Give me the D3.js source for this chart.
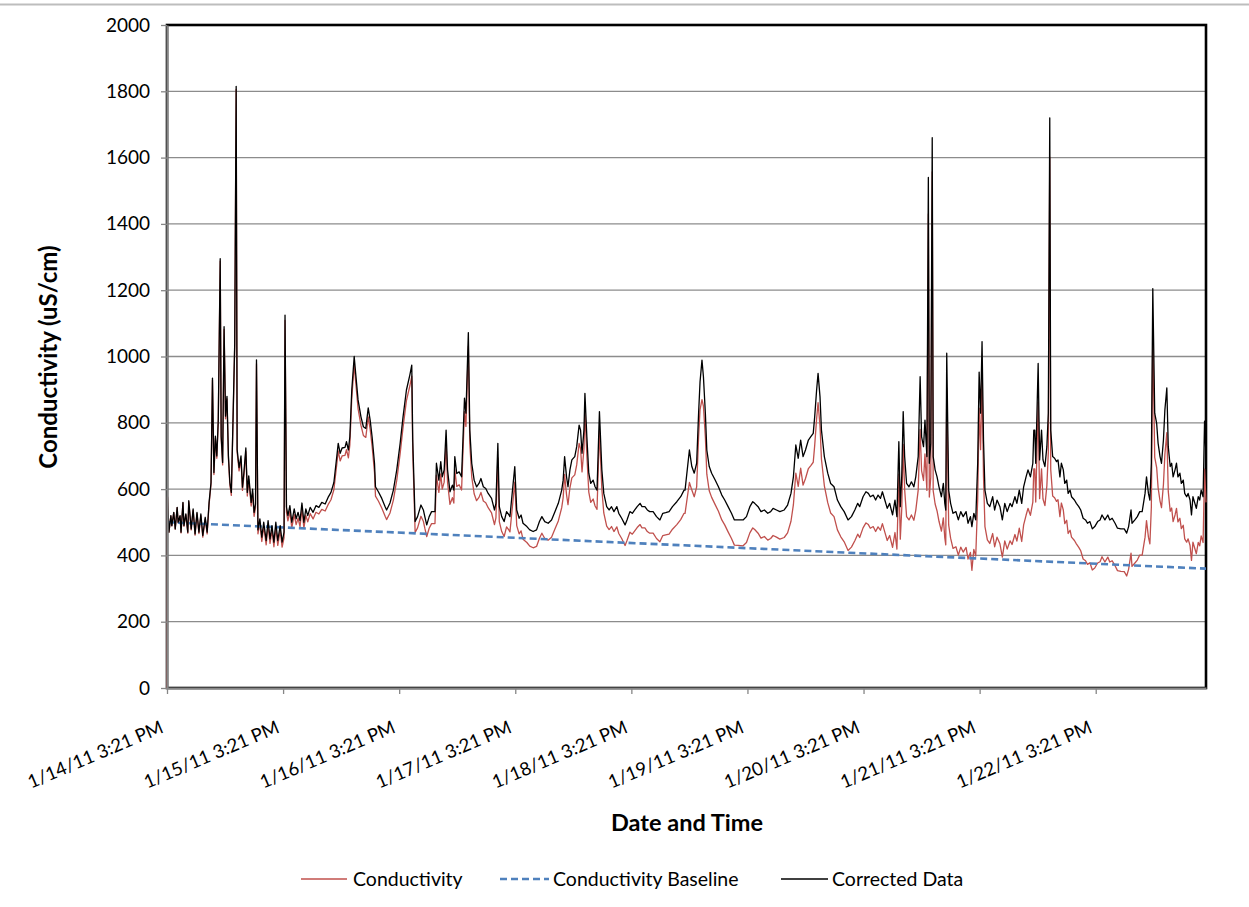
<!DOCTYPE html>
<html><head><meta charset="utf-8">
<script src="https://cdn.jsdelivr.net/npm/d3@7"></script>
<style>
body{margin:0;background:#fff}
text{font-family:Lato,"Liberation Sans",sans-serif;fill:#000}
</style>
</head><body>
<svg id="chart" width="1249" height="907"></svg>
<script>
// ---------------- DATA ----------------
const startTime = new Date(2011, 0, 14, 15, 21);
const tickLabels = ["1/14/11 3:21 PM","1/15/11 3:21 PM","1/16/11 3:21 PM","1/17/11 3:21 PM","1/18/11 3:21 PM","1/19/11 3:21 PM","1/20/11 3:21 PM","1/21/11 3:21 PM","1/22/11 3:21 PM"];
const tickHours = [0, 24, 48, 72, 96, 120, 144, 168, 192];
const yTicks = [0,200,400,600,800,1000,1200,1400,1600,1800,2000];
const endHours = 214.8;
const seriesNames = ["Conductivity","Conductivity Baseline","Corrected Data"];

// hours since 1/14/11 3:21 PM
const hours = [
0,0.1,0.4,0.8,1.0,1.4,1.7,2.1,2.3,2.7,2.9,3.3,3.5,3.9,4.3,4.5,5.0,5.4,5.8,6.2,6.6,7.0,7.4,7.9,8.3,8.7,9.1,9.4,9.7,10.0,10.3,10.6,11.0,11.2,11.5,11.8,12.1,12.4,12.7,13.0,13.3,13.6,14.0,14.3,14.5,14.9,15.3,15.6,15.9,16.3,16.6,16.9,17.4,17.7,18.0,18.3,18.5,18.8,19.2,19.6,20.0,20.5,20.9,21.3,21.7,22.1,22.5,22.9,23.4,23.8,24.2,24.4,24.7,25.0,25.4,25.8,26.3,26.7,27.1,27.5,27.9,28.3,28.7,29.1,29.6,30.2,30.8,31.4,32.0,32.7,33.3,33.9,34.5,
35.1,35.4,35.8,36.2,36.8,37.1,37.5,37.8,38.2,38.7,39.0,39.5,40.1,40.6,41.1,41.6,42.0,42.4,42.9,43.1,43.7,44.4,45.1,45.4,46.1,46.8,47.5,48.2,48.8,49.5,50.2,50.6,50.8,51.3,51.8,52.5,53.0,53.3,53.7,54.2,54.7,55.4,55.7,56.2,56.6,56.9,57.3,57.7,58.0,58.5,59.0,59.3,59.5,59.9,60.4,60.9,61.5,61.8,62.3,62.6,63.0,63.5,64.0,64.5,64.9,65.4,65.9,66.4,67.1,67.7,68.0,68.4,68.7,69.2,69.7,70.2,70.7,
70.9,71.9,72.3,72.8,73.2,73.6,74.4,75.0,75.7,76.4,77.0,77.5,78.1,78.8,79.5,80.2,80.9,81.6,81.9,82.2,82.6,82.9,83.3,83.7,84.3,84.7,85.2,85.5,85.8,86.2,86.4,86.8,87.2,87.6,88.1,88.5,88.9,89.4,89.9,90.3,90.9,91.4,91.9,92.4,93.0,93.4,94.0,94.7,95.1,95.7,96.2,96.7,97.2,97.8,98.2,98.8,99.3,99.8,100.5,101.2,101.9,102.5,103.1,103.8,104.5,105.4,106.2,106.9,
107.1,108.0,108.5,109.0,109.5,109.9,110.2,110.6,110.9,111.3,111.6,112.1,112.6,113.3,114.0,114.7,115.3,116.0,116.7,117.3,118.1,119.1,119.8,120.5,121.1,121.5,122.2,122.8,123.5,124.2,124.8,125.3,126.0,126.7,127.6,128.3,129.0,129.5,130.0,130.5,131.0,131.5,132.0,132.6,133.1,133.6,133.9,134.3,134.6,135.0,135.3,135.9,136.6,137.2,137.9,138.6,139.3,140.0,140.8,141.5,142.2,142.8,143.2,
143.9,144.5,145.0,145.4,146.0,146.5,147.0,147.5,147.9,148.4,148.9,149.4,150.0,150.5,150.9,151.3,151.6,151.9,152.2,152.5,152.9,153.4,153.9,154.4,154.8,155.3,155.7,156.0,156.4,156.7,157.1,157.4,157.6,157.9,158.2,158.4,158.8,159.2,159.6,160.1,160.5,160.8,161.0,161.2,161.6,162.0,162.5,163.1,163.6,164.1,164.6,165.2,165.6,166.1,166.4,166.8,167.2,167.6,167.9,168.2,168.5,168.8,169.1,169.6,170.1,170.7,171.1,171.6,172.2,172.7,173.2,173.7,174.3,174.7,175.3,175.7,176.2,176.7,177.1,177.6,178.0,178.5,179.0,179.2,
179.4,179.6,180.1,180.4,180.8,181.1,181.5,181.9,182.2,182.5,182.7,183.1,183.5,183.9,184.2,184.6,184.9,185.3,185.6,186.0,186.3,186.7,187.0,187.6,188.0,188.5,188.9,189.4,189.9,190.3,190.8,191.3,191.8,192.4,192.9,193.3,193.9,194.5,194.9,195.4,196.0,196.5,197.2,197.9,198.4,198.8,199.3,199.5,200.1,200.6,201.1,201.6,202.2,202.5,202.9,203.2,203.5,203.8,204.2,204.6,204.9,205.3,205.6,206.0,206.3,206.7,207.0,207.4,207.7,208.0,208.4,208.7,209.0,209.4,209.7,210.1,210.4,210.8,211.1,211.5,211.8,212.1,212.5,212.8,213.2,213.5,213.8,214.2,214.5,214.8
];

const corrected = [
null,577,470,520,490,530,480,545,500,520,470,560,490,525,470,565,480,540,465,530,470,525,460,515,470,560,620,935,650,760,700,810,1295,760,680,1090,820,880,700,620,590,780,1040,1815,720,665,700,606,650,724,590,640,560,600,530,555,990,477,510,455,500,445,505,450,490,440,500,445,490,440,470,1125,546,520,550,500,540,510,530,505,558,500,540,520,545,530,550,545,560,555,575,590,620,
698,738,708,724,726,743,718,758,899,1000,950,869,818,788,783,845,808,758,678,607,592,572,547,537,558,597,658,738,818,899,944,974,750,502,517,552,537,517,492,517,532,532,678,627,683,637,658,778,658,592,612,597,698,647,652,637,874,829,1072,778,678,627,607,617,632,607,602,587,572,537,557,738,547,517,502,532,522,
517,668,537,512,522,497,487,477,472,477,502,517,502,497,507,532,557,597,627,698,637,607,658,688,698,728,793,778,708,778,889,758,648,617,627,607,597,834,658,587,547,537,547,532,547,527,512,492,507,532,527,537,547,557,547,547,537,532,532,517,507,527,529,532,547,562,577,597,
597,718,668,648,678,829,924,989,939,829,718,668,648,628,607,582,567,547,527,507,507,507,517,547,562,557,547,532,537,527,532,542,537,532,537,552,587,637,733,693,748,698,718,748,758,768,818,899,949,879,778,698,648,617,607,567,547,532,507,517,537,557,547,
577,592,587,577,582,567,582,572,592,567,542,557,522,567,517,743,547,640,834,698,617,607,622,607,637,698,939,758,728,808,698,1540,678,738,1660,698,658,637,607,577,617,557,537,1010,597,557,527,532,507,532,517,532,497,517,487,527,507,678,953,829,1045,748,597,557,547,577,537,567,547,507,557,532,557,547,577,557,597,557,607,637,658,637,678,778,
778,678,979,688,778,688,668,728,829,1720,778,698,693,683,688,637,678,658,617,627,587,597,577,567,557,547,537,512,507,497,502,480,487,502,507,522,507,522,507,512,497,482,480,480,467,487,537,497,507,517,532,532,587,637,587,567,678,1205,829,798,738,698,678,748,839,905,728,668,678,637,658,678,637,648,617,627,587,577,587,567,522,577,557,542,577,567,597,577,805,700
];

const conductivity = [
0,577,470,519,489,529,479,544,498,518,468,558,488,522,467,562,477,536,461,526,466,520,455,510,465,554,614,929,644,753,693,803,1288,753,673,1082,812,872,692,612,581,771,1031,1806,711,655,690,596,640,713,579,629,549,588,518,543,978,465,497,442,487,432,491,436,476,426,485,430,475,425,454,1109,530,504,533,483,523,493,512,487,540,482,521,501,526,510,530,525,539,534,553,568,598,
675,715,685,700,702,719,694,733,874,975,925,843,792,762,756,818,781,730,650,579,564,543,518,508,528,567,627,707,786,867,911,941,717,469,483,518,503,482,457,482,496,496,642,590,646,600,621,740,620,554,574,558,659,608,613,597,834,789,1031,737,637,586,565,575,590,564,559,544,528,493,513,694,502,472,457,486,476,
471,621,490,465,474,449,439,428,423,427,452,467,451,446,455,480,504,544,574,644,583,553,604,634,643,673,738,722,652,722,833,702,591,560,570,549,539,776,600,528,488,478,487,472,486,466,451,430,445,470,464,474,484,493,483,483,472,467,467,451,441,460,462,464,479,493,508,527,
527,620,597,577,607,758,840,870,850,757,645,595,575,554,533,507,492,471,451,431,430,429,439,468,483,478,467,452,457,446,451,460,455,449,454,468,503,553,648,608,663,612,632,662,671,681,731,812,861,791,690,610,559,528,517,477,456,441,415,425,444,464,454,
483,498,493,482,487,472,486,476,496,470,445,460,424,469,419,645,449,541,735,599,517,507,522,506,536,597,780,656,626,706,596,1430,576,636,1557,595,555,534,503,473,513,453,432,905,492,452,421,426,401,425,410,424,389,409,355,418,398,569,844,719,935,638,487,447,436,466,426,455,435,395,444,419,444,433,463,443,482,442,492,521,542,521,561,661,
661,561,862,571,661,570,550,610,710,1601,659,579,574,563,568,517,558,537,496,506,466,476,455,445,435,424,414,389,384,373,378,356,362,377,381,396,380,395,380,384,369,354,352,351,338,358,407,367,377,386,401,401,455,505,455,435,545,1072,696,665,604,564,544,614,705,770,593,533,543,502,522,542,501,512,481,491,450,440,450,430,385,440,420,405,439,429,459,439,660,560
];

const baselineHours = [0, 214.8];
const baselineValues = [500, 360];

// ---------------- CHART ----------------
const svg = d3.select("#chart");
const L = 167, R = 1206, T = 25, B = 688;
const toDate = h => new Date(+startTime + h * 3600e3);

const x = d3.scaleTime().domain([startTime, toDate(endHours)]).range([L, R]);
const y = d3.scaleLinear().domain([0, 2000]).range([B, T]);

// outer chart border (top edge)
svg.append("line").attr("x1",0).attr("x2",1249).attr("y1",4.5).attr("y2",4.5)
  .attr("stroke","#bdbdbd").attr("stroke-width",2);

// gridlines
svg.append("g").selectAll("line").data(yTicks.filter(v => v > 0 && v < 2000)).join("line")
  .attr("x1", L).attr("x2", R).attr("y1", d => y(d)).attr("y2", d => y(d))
  .attr("stroke", "#8c8c8c").attr("stroke-width", 1.3);

// plot frame
svg.append("rect").attr("x", L).attr("y", T).attr("width", R - L).attr("height", B - T)
  .attr("fill", "none").attr("stroke", "#000").attr("stroke-width", 2.6);

const data = hours.map((h, i) => ({t: toDate(h), cond: conductivity[i], corr: corrected[i]}));
const baseData = baselineHours.map((h, i) => ({t: toDate(h), v: baselineValues[i]}));

const lineCond = d3.line().x(d => x(d.t)).y(d => y(d.cond));
const lineCorr = d3.line().defined(d => d.corr != null).x(d => x(d.t)).y(d => y(d.corr));
const lineBase = d3.line().x(d => x(d.t)).y(d => y(d.v));

svg.append("path").datum(data).attr("d", lineCond)
  .attr("fill","none").attr("stroke","#c0504d").attr("stroke-width",1.3).attr("stroke-linejoin","round");
svg.append("path").datum(baseData).attr("d", lineBase)
  .attr("fill","none").attr("stroke","#4f81bd").attr("stroke-width",2.6).attr("stroke-dasharray","7,4");
svg.append("path").datum(data).attr("d", lineCorr)
  .attr("fill","none").attr("stroke","#000").attr("stroke-width",1.3).attr("stroke-linejoin","round");

// y axis
const yAxis = svg.append("g").attr("transform", `translate(${L},0)`)
  .call(d3.axisLeft(y).tickValues(yTicks).tickSize(6).tickSizeOuter(0).tickPadding(11).tickFormat(d3.format("d")));
yAxis.select(".domain").attr("stroke","#868686").attr("stroke-width",2.2);
yAxis.selectAll(".tick line").attr("stroke","#868686").attr("stroke-width",1.3);
yAxis.selectAll(".tick text").attr("font-size",19).attr("font-family","Lato");

// x axis
const xAxis = svg.append("g").attr("transform", `translate(0,${B})`)
  .call(d3.axisBottom(x).tickValues(tickHours.map(toDate)).tickSize(6).tickSizeOuter(0)
    .tickFormat((d, i) => tickLabels[i]));
xAxis.select(".domain").attr("stroke","#868686").attr("stroke-width",2.2);
xAxis.selectAll(".tick line").attr("stroke","#868686").attr("stroke-width",1.3);
xAxis.selectAll(".tick text").attr("font-size",18.5).attr("font-family","Lato")
  .attr("text-anchor","end").attr("x",0).attr("y",0).attr("dy",null)
  .attr("transform","translate(-3,44) rotate(-23)");

// axis titles
svg.append("text").attr("transform","translate(57,357) rotate(-90)").attr("text-anchor","middle")
  .attr("font-size",24).attr("font-weight","bold").text("Conductivity (uS/cm)");
svg.append("text").attr("x",687).attr("y",831).attr("text-anchor","middle")
  .attr("font-size",23.5).attr("font-weight","bold").text("Date and Time");

// legend
const leg = [
  {x1:301, x2:347, tx:353, color:"#c0504d", w:1.5, dash:null},
  {x1:500, x2:549, tx:553, color:"#4f81bd", w:2.6, dash:"7,4"},
  {x1:781, x2:828, tx:832, color:"#000", w:1.5, dash:null}
];
leg.forEach((l, i) => {
  svg.append("line").attr("x1",l.x1).attr("x2",l.x2).attr("y1",879).attr("y2",879)
    .attr("stroke",l.color).attr("stroke-width",l.w).attr("stroke-dasharray",l.dash);
  svg.append("text").attr("x",l.tx).attr("y",886).attr("font-size",19.5).text(seriesNames[i]);
});
</script>
</body></html>
